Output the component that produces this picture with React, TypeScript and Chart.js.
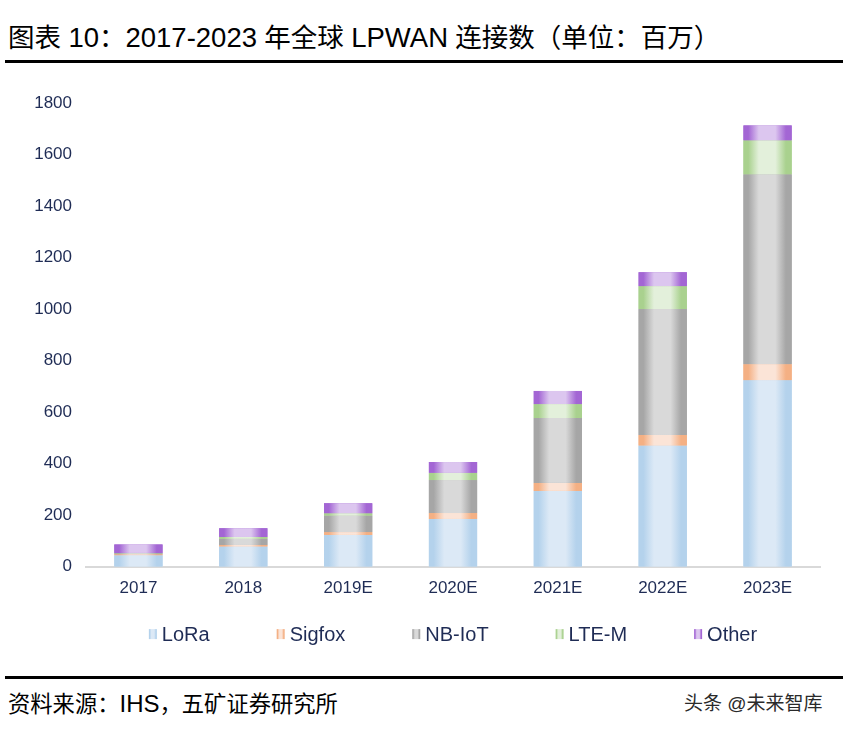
import React, { useEffect, useRef } from "react";
import { Chart, registerables } from "chart.js";

Chart.register(...registerables);

const categories = ["2017", "2018", "2019E", "2020E", "2021E", "2022E", "2023E"];
const seriesNames = ["LoRa", "Sigfox", "NB-IoT", "LTE-M", "Other"];
const loraValues = [44, 78, 123, 185, 294, 470, 724];
const sigfoxValues = [4, 6, 11, 23, 31, 41, 62];
const nbIotValues = [4, 24, 64, 128, 252, 489, 737];
const lteMValues = [1, 7, 9, 28, 54, 89, 132];
const otherValues = [33, 34, 39, 42, 51, 54, 58];
const yTickValues = [0, 200, 400, 600, 800, 1000, 1200, 1400, 1600, 1800];

const edgeColors = ["#b4d2ec", "#f4b084", "#a6a6a6", "#a9d18e", "#a366d4"];
const centerColors = ["#dce9f6", "#fbe4d7", "#d9d9d9", "#e3f0db", "#dcc6ef"];

const FONT = '"Liberation Sans", Arial, "Noto Sans CJK SC", sans-serif';
const TEXT_NAVY = "#1f2c55";

function makeGradient(ctx: CanvasRenderingContext2D, left: number, width: number, i: number) {
  const g = ctx.createLinearGradient(left, 0, left + width, 0);
  g.addColorStop(0, edgeColors[i]);
  g.addColorStop(0.1, edgeColors[i]);
  g.addColorStop(0.32, centerColors[i]);
  g.addColorStop(0.66, centerColors[i]);
  g.addColorStop(0.88, edgeColors[i]);
  g.addColorStop(1, edgeColors[i]);
  return g;
}

const gradientBars = {
  id: "gradientBars",
  afterDatasetsDraw(chart: any) {
    const ctx = chart.ctx as CanvasRenderingContext2D;
    chart.data.datasets.forEach((_ds: any, di: number) => {
      const meta = chart.getDatasetMeta(di);
      meta.data.forEach((el: any) => {
        const { x, y, base, width } = el.getProps(["x", "y", "base", "width"], true);
        const left = x - width / 2;
        ctx.save();
        ctx.fillStyle = makeGradient(ctx, left, width, di);
        ctx.fillRect(left, Math.min(y, base), width, Math.abs(base - y));
        ctx.restore();
      });
    });
  },
};

const customLegend = {
  id: "customLegend",
  afterDraw(chart: any) {
    const ctx = chart.ctx as CanvasRenderingContext2D;
    const { left, right, bottom } = chart.chartArea;
    ctx.save();
    ctx.font = `20px ${FONT}`;
    const boxW = 8;
    const boxH = 10;
    const gapText = 5;
    const gapItem = 67;
    const widths = seriesNames.map((n) => boxW + gapText + ctx.measureText(n).width);
    const total = widths.reduce((a, b) => a + b, 0) + gapItem * (seriesNames.length - 1);
    let x = (left + right) / 2 - total / 2;
    const cy = bottom + 67.5;
    ctx.textBaseline = "middle";
    ctx.textAlign = "left";
    seriesNames.forEach((n, i) => {
      ctx.fillStyle = makeGradient(ctx, x, boxW, i);
      ctx.fillRect(x, cy - boxH / 2, boxW, boxH);
      ctx.fillStyle = TEXT_NAVY;
      ctx.fillText(n, x + boxW + gapText, cy + 1);
      x += widths[i] + gapItem;
    });
    ctx.restore();
  },
};

function ChartBox() {
  const ref = useRef<HTMLCanvasElement | null>(null);
  useEffect(() => {
    if (!ref.current) return;
    const seriesValues = [loraValues, sigfoxValues, nbIotValues, lteMValues, otherValues];
    const chart = new Chart(ref.current, {
      type: "bar",
      data: {
        labels: categories,
        datasets: seriesNames.map((name, i) => ({
          label: name,
          data: seriesValues[i],
          backgroundColor: edgeColors[i],
          borderWidth: 0,
          barPercentage: 0.46,
          categoryPercentage: 1,
        })),
      },
      options: {
        animation: false,
        responsive: false,
        maintainAspectRatio: false,
        layout: { padding: { top: 33, right: 23, bottom: 59, left: 0 } },
        plugins: {
          legend: { display: false },
          tooltip: { enabled: false },
          title: { display: false },
        },
        scales: {
          x: {
            stacked: true,
            grid: { display: false, drawTicks: false },
            border: { display: true, color: "#d9d9d9", width: 2 },
            ticks: { color: TEXT_NAVY, font: { family: FONT, size: 17 }, padding: 12 },
          },
          y: {
            stacked: true,
            min: 0,
            max: 1800,
            afterFit: (s: any) => {
              s.width = 86;
            },
            afterBuildTicks: (s: any) => {
              s.ticks = yTickValues.map((v) => ({ value: v }));
            },
            grid: { display: false, drawTicks: false },
            border: { display: false },
            ticks: {
              color: TEXT_NAVY,
              font: { family: FONT, size: 17 },
              padding: 14,
              callback: (v: any) => String(v),
            },
          },
        },
      },
      plugins: [gradientBars, customLegend],
    });
    return () => chart.destroy();
  }, []);
  return <canvas ref={ref} width={843} height={600} style={{ position: "absolute", left: 0, top: 70, width: 843, height: 600 }} />;
}

const L = (t: string, size: number) => <span style={{ fontSize: size }}>{t}</span>;

export default function App() {
  return (
    <div style={{ position: "absolute", left: 0, top: 0, width: 843, height: 737, background: "#fff", fontFamily: FONT }}>
      <div style={{ position: "absolute", left: 8, top: 21, fontSize: 26.5, lineHeight: "34px", color: "#000", whiteSpace: "nowrap" }}>
        图表 {L("10", 27.5)}：{L("2017-2023", 27.5)} 年全球 {L("LPWAN", 27.5)} 连接数（单位：百万）
      </div>
      <div style={{ position: "absolute", left: 5, top: 60, width: 838, height: 3, background: "#000" }} />
      <ChartBox />
      <div style={{ position: "absolute", left: 5, top: 676, width: 838, height: 3, background: "#000" }} />
      <div style={{ position: "absolute", left: 8, top: 689, fontSize: 22.3, lineHeight: "30px", color: "#000", whiteSpace: "nowrap" }}>
        资料来源：{L("IHS", 24)}，五矿证券研究所
      </div>
      <div style={{ position: "absolute", left: 684, top: 692, fontSize: 19, lineHeight: "24px", color: "#2a2a2a", whiteSpace: "nowrap" }}>
        头条 @未来智库
      </div>
    </div>
  );
}
